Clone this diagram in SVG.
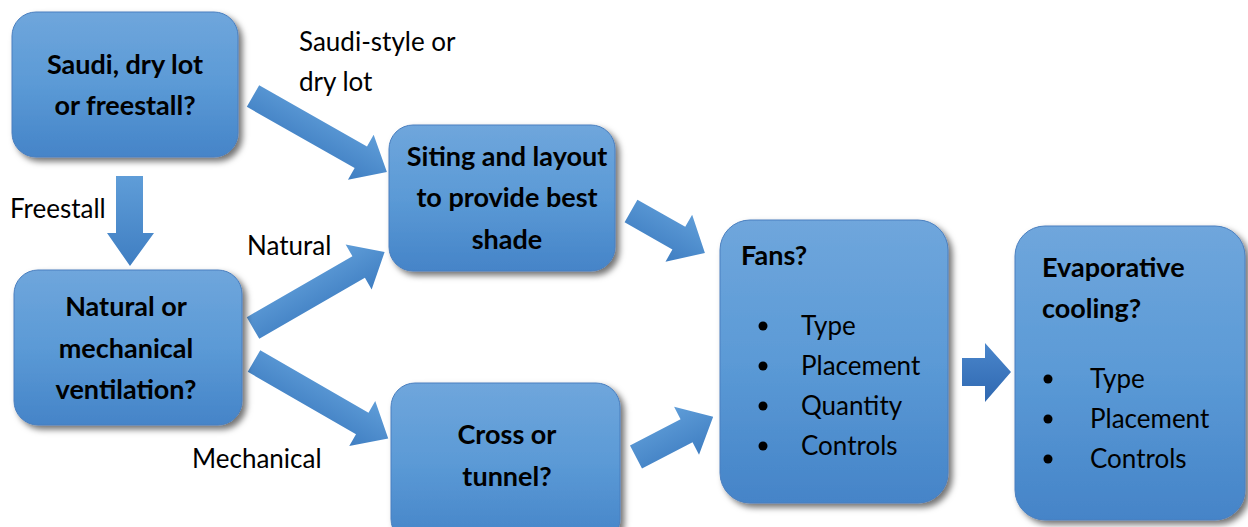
<svg xmlns="http://www.w3.org/2000/svg" width="1248" height="527" viewBox="0 0 1248 527">
<defs>
<linearGradient id="boxg" x1="0" y1="0" x2="0" y2="1">
<stop offset="0" stop-color="#6fa6dc"/>
<stop offset="0.5" stop-color="#5b9ad6"/>
<stop offset="1" stop-color="#4584c8"/>
</linearGradient>
<linearGradient id="arrg" x1="0" y1="0" x2="0" y2="1">
<stop offset="0" stop-color="#5f9dd8"/>
<stop offset="1" stop-color="#3f7ec2"/>
</linearGradient>
<linearGradient id="arrd" x1="0" y1="0" x2="0" y2="1">
<stop offset="0" stop-color="#4a86cc"/>
<stop offset="1" stop-color="#2f68b0"/>
</linearGradient>
<filter id="sh" x="-10%" y="-10%" width="130%" height="130%">
<feDropShadow dx="4" dy="4" stdDeviation="3" flood-color="#000" flood-opacity="0.55"/>
</filter>
</defs>
<style>
.box{fill:url(#boxg);stroke:#4a7fbf;stroke-width:1;filter:url(#sh)}
.t{font-family:Lato,"Open Sans","Liberation Sans",sans-serif;font-weight:700;font-size:27px;fill:#000;text-anchor:middle}
.tl{font-family:Lato,"Open Sans","Liberation Sans",sans-serif;font-weight:700;font-size:27px;fill:#000}
.l{font-family:Lato,"Open Sans","Liberation Sans",sans-serif;font-size:26px;fill:#000}
.arr{fill:url(#arrg)}
</style>
<rect width="1248" height="527" fill="#fff"/>
<g id="connectors">
<polygon class="arr" transform="translate(253,96) rotate(29.6)" points="0,-12.5 124,-12.5 124,-26 154,0 124,26 124,12.5 0,12.5"/>
<polygon class="arr" transform="translate(253,328) rotate(-30)" points="0,-12.5 122,-12.5 122,-26 152,0 122,26 122,12.5 0,12.5"/>
<polygon class="arr" transform="translate(254,361) rotate(30)" points="0,-12.5 125,-12.5 125,-26 155,0 125,26 125,12.5 0,12.5"/>
<polygon class="arr" transform="translate(631,211) rotate(29.6)" points="0,-13 55,-13 55,-27 85,0 55,27 55,13 0,13"/>
<polygon class="arr" transform="translate(636,457) rotate(-27.5)" points="0,-13 57,-13 57,-27 87,0 57,27 57,13 0,13"/>
<polygon class="arr" points="116,176 143,176 143,233 154,233 130,266 107,233 116,233"/>
<polygon fill="url(#arrd)" points="962,358 985,358 985,343 1011,372 985,402 985,386 962,386"/>
<text class="l" x="299" y="51">Saudi-style or</text>
<text class="l" x="299" y="91">dry lot</text>
<text class="l" x="10" y="218">Freestall</text>
<text class="l" x="247" y="255">Natural</text>
<text class="l" x="192" y="468">Mechanical</text>
</g>
<g id="n1">
<rect class="box" x="12" y="12" width="226" height="145" rx="24"/>
<text class="t" x="125" y="74">Saudi, dry lot</text>
<text class="t" x="125" y="115">or freestall?</text>
</g>
<g id="n2">
<rect class="box" x="14" y="270" width="228" height="155" rx="24"/>
<text class="t" x="126" y="316">Natural or</text>
<text class="t" x="126" y="358">mechanical</text>
<text class="t" x="126" y="399">ventilation?</text>
</g>
<g id="n3">
<rect class="box" x="389" y="125" width="226" height="146" rx="24"/>
<text class="t" x="507" y="166">Siting and layout</text>
<text class="t" x="507" y="207">to provide best</text>
<text class="t" x="507" y="249">shade</text>
</g>
<g id="n4">
<rect class="box" x="391" y="383" width="229" height="160" rx="24"/>
<text class="t" x="507" y="444">Cross or</text>
<text class="t" x="507" y="486">tunnel?</text>
</g>
<g id="n5">
<rect class="box" x="720" y="220" width="228" height="283" rx="30"/>
<text class="tl" x="741" y="265">Fans?</text>
<circle cx="763" cy="326" r="4.5"/><text class="l" x="801" y="335">Type</text>
<circle cx="763" cy="366" r="4.5"/><text class="l" x="801" y="375">Placement</text>
<circle cx="763" cy="406" r="4.5"/><text class="l" x="801" y="415">Quantity</text>
<circle cx="763" cy="446" r="4.5"/><text class="l" x="801" y="455">Controls</text>
</g>
<g id="n6">
<rect class="box" x="1015" y="226" width="230" height="294" rx="30"/>
<text class="tl" x="1042" y="277">Evaporative</text>
<text class="tl" x="1042" y="318">cooling?</text>
<circle cx="1048" cy="379" r="4.5"/><text class="l" x="1090" y="388">Type</text>
<circle cx="1048" cy="419" r="4.5"/><text class="l" x="1090" y="428">Placement</text>
<circle cx="1048" cy="459" r="4.5"/><text class="l" x="1090" y="468">Controls</text>
</g>
</svg>
